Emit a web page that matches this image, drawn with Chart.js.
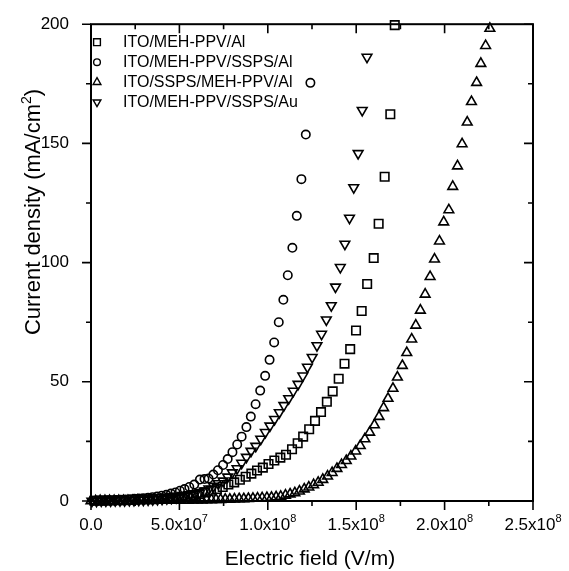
<!DOCTYPE html>
<html>
<head>
<meta charset="utf-8">
<script src="https://cdn.jsdelivr.net/npm/chart.js@4"></script>
<style>
  html, body { margin: 0; padding: 0; background: #fff; }
</style>
</head>
<body>
<canvas id="chart" width="569" height="571"></canvas>
<script>
// field in units of 1e8 V/m, current density in mA/cm2
const seriesLabels = ["ITO/MEH-PPV/Al", "ITO/MEH-PPV/SSPS/Al", "ITO/SSPS/MEH-PPV/Al", "ITO/MEH-PPV/SSPS/Au"];

const squares = [
  [0.019, 0.1], [0.052, 0.1], [0.085, 0.2], [0.118, 0.2], [0.151, 0.3], [0.184, 0.3], [0.217, 0.4], [0.250, 0.5],
  [0.283, 0.6], [0.316, 0.7], [0.349, 0.8], [0.382, 0.9], [0.415, 1.1], [0.448, 1.3], [0.481, 1.5], [0.514, 1.8],
  [0.547, 2.1], [0.580, 2.5], [0.613, 3.0], [0.646, 3.6], [0.679, 4.3], [0.712, 5.0], [0.745, 5.9], [0.777, 6.9],
  [0.810, 7.8], [0.842, 8.9], [0.875, 10.2], [0.907, 11.5], [0.939, 12.8], [0.972, 14.0], [1.004, 15.5], [1.037, 17.0],
  [1.071, 18.2], [1.103, 19.4], [1.137, 21.7], [1.169, 24.2], [1.200, 27.0], [1.234, 30.1], [1.267, 33.6], [1.301, 37.3],
  [1.334, 41.6], [1.367, 46.0], [1.401, 51.3], [1.434, 57.6], [1.466, 63.7], [1.499, 71.5], [1.531, 79.7], [1.562, 91.0],
  [1.599, 101.9], [1.627, 116.3], [1.661, 136.0], [1.693, 162.2], [1.718, 199.6]
];

const circles = [
  [0.013, 0.1], [0.039, 0.2], [0.065, 0.2], [0.090, 0.3], [0.116, 0.3], [0.142, 0.4], [0.168, 0.5], [0.194, 0.6],
  [0.219, 0.7], [0.245, 0.9], [0.271, 1.0], [0.297, 1.2], [0.323, 1.4], [0.348, 1.6], [0.374, 1.9], [0.400, 2.2],
  [0.426, 2.6], [0.452, 3.1], [0.478, 3.6], [0.503, 4.3], [0.529, 5.0], [0.556, 5.9], [0.584, 6.9], [0.616, 9.0],
  [0.642, 9.2], [0.665, 9.4], [0.692, 11.1], [0.718, 12.9], [0.747, 15.1], [0.773, 17.6], [0.800, 20.5], [0.827, 23.7],
  [0.852, 27.0], [0.879, 31.0], [0.904, 35.4], [0.931, 40.6], [0.957, 46.3], [0.985, 52.5], [1.010, 59.2], [1.036, 66.5],
  [1.062, 75.0], [1.088, 84.4], [1.113, 94.7], [1.139, 106.2], [1.164, 119.6], [1.190, 135.0], [1.215, 153.7], [1.241, 175.4]
];

const trianglesUp = [
  [0.000, 0.0], [0.026, 0.0], [0.052, 0.1], [0.079, 0.1], [0.105, 0.1], [0.131, 0.1], [0.157, 0.1], [0.183, 0.1],
  [0.209, 0.1], [0.236, 0.1], [0.262, 0.2], [0.288, 0.2], [0.314, 0.2], [0.340, 0.2], [0.367, 0.2], [0.393, 0.2],
  [0.419, 0.2], [0.445, 0.3], [0.471, 0.3], [0.497, 0.3], [0.524, 0.3], [0.550, 0.3], [0.576, 0.4], [0.602, 0.4],
  [0.628, 0.4], [0.654, 0.5], [0.681, 0.5], [0.707, 0.6], [0.733, 0.6], [0.759, 0.7], [0.785, 0.7], [0.811, 0.8],
  [0.838, 0.9], [0.864, 0.9], [0.890, 1.0], [0.916, 1.1], [0.942, 1.2], [0.968, 1.3], [0.995, 1.4], [1.021, 1.5],
  [1.047, 1.7], [1.073, 1.9], [1.100, 2.4], [1.126, 2.9], [1.153, 3.4], [1.179, 4.1], [1.206, 5.0], [1.232, 5.8],
  [1.259, 6.8], [1.285, 7.8], [1.311, 9.0], [1.338, 10.4], [1.364, 11.9], [1.391, 13.6], [1.417, 15.2], [1.444, 16.9],
  [1.470, 18.8], [1.497, 20.9], [1.523, 23.2], [1.549, 26.0], [1.576, 28.8], [1.603, 31.9], [1.629, 35.4], [1.655, 39.1],
  [1.680, 43.0], [1.708, 47.2], [1.733, 51.9], [1.761, 56.8], [1.786, 62.2], [1.814, 67.9], [1.837, 73.7], [1.863, 80.0],
  [1.890, 86.7], [1.918, 94.1], [1.943, 101.4], [1.971, 109.0], [1.995, 117.0], [2.024, 122.1], [2.046, 131.9], [2.073, 140.5],
  [2.099, 149.8], [2.128, 158.9], [2.152, 167.5], [2.181, 175.5], [2.205, 183.5], [2.232, 191.0], [2.256, 198.2]
];

const trianglesDown = [
  [0.005, 0.0], [0.031, 0.0], [0.058, 0.1], [0.084, 0.1], [0.111, 0.1], [0.137, 0.2], [0.164, 0.2], [0.190, 0.2],
  [0.217, 0.3], [0.243, 0.3], [0.270, 0.4], [0.296, 0.4], [0.323, 0.5], [0.349, 0.6], [0.376, 0.7], [0.402, 0.8],
  [0.429, 1.0], [0.455, 1.2], [0.482, 1.4], [0.508, 1.7], [0.535, 2.0], [0.561, 2.4], [0.588, 2.9], [0.614, 3.4],
  [0.641, 4.3], [0.667, 5.1], [0.693, 6.2], [0.720, 7.3], [0.747, 8.4], [0.773, 10.1], [0.799, 11.9], [0.826, 13.6],
  [0.852, 15.9], [0.879, 18.4], [0.905, 20.9], [0.932, 23.0], [0.960, 26.0], [0.986, 28.8], [1.012, 31.5], [1.038, 34.3],
  [1.065, 37.1], [1.091, 40.1], [1.118, 43.0], [1.144, 46.1], [1.171, 49.0], [1.198, 52.5], [1.224, 56.2], [1.251, 60.3],
  [1.278, 65.2], [1.304, 70.0], [1.331, 76.0], [1.359, 82.0], [1.383, 89.8], [1.410, 98.0], [1.436, 107.8], [1.462, 118.7],
  [1.486, 131.5], [1.511, 145.8], [1.534, 163.9], [1.561, 186.2]
];

// x tick labels: mantissa part and raised exponent
const xTickBase = ["0.0", "5.0x10", "1.0x10", "1.5x10", "2.0x10", "2.5x10"];
const xTickExp = ["", "7", "8", "8", "8", "8"];
const FIELD_UNIT = 1e8;

const FONT = "'Liberation Sans', Arial, sans-serif";
Chart.defaults.font.family = FONT;
Chart.defaults.color = '#000';

// marker look per series
const markers = [
  { style: 'rect', radius: 6, rotation: 0 },
  { style: 'circle', radius: 4.2, rotation: 0 },
  { style: 'triangle', radius: 5.6, rotation: 0 },
  { style: 'triangle', radius: 5.6, rotation: 180 }
];

function toPoints(arr) {
  return arr.map(p => ({ x: p[0] * FIELD_UNIT, y: p[1] }));
}

const datasets = [squares, circles, trianglesUp, trianglesDown].map((arr, i) => ({
  label: seriesLabels[i],
  data: toPoints(arr),
  showLine: false,
  pointStyle: markers[i].style,
  pointRadius: markers[i].radius,
  pointRotation: markers[i].rotation,
  pointBorderWidth: 1.6,
  borderColor: '#000',
  backgroundColor: 'rgba(0,0,0,0)',
  pointBackgroundColor: 'rgba(0,0,0,0)',
  clip: false
}));

// box round the plot, minor ticks on all four sides, x labels with superscripts, titles
const frameTicks = {
  id: 'frameTicks',
  afterDraw(chart) {
    const { ctx, chartArea: a, scales: { x, y } } = chart;
    ctx.save();
    ctx.strokeStyle = '#000';
    ctx.lineWidth = 2;
    ctx.strokeRect(a.left, a.top, a.right - a.left, a.bottom - a.top);
    ctx.lineWidth = 1.6;
    ctx.beginPath();
    for (let k = 0; k <= 10; k++) {
      const px = x.getPixelForValue(k * 0.25 * FIELD_UNIT);
      const len = k % 2 === 0 ? 9 : 5;
      ctx.moveTo(px, a.bottom); ctx.lineTo(px, a.bottom + len);
      ctx.moveTo(px, a.top); ctx.lineTo(px, a.top + len);
    }
    for (let k = 0; k <= 8; k++) {
      const py = y.getPixelForValue(k * 25);
      const len = k % 2 === 0 ? 9 : 5;
      ctx.moveTo(a.left, py); ctx.lineTo(a.left - len, py);
      ctx.moveTo(a.right, py); ctx.lineTo(a.right - len, py);
    }
    ctx.stroke();

    ctx.fillStyle = '#000';
    ctx.textBaseline = 'alphabetic';
    ctx.textAlign = 'left';
    x.ticks.forEach((t, i) => {
      const px = x.getPixelForValue(t.value);
      ctx.font = "17px " + FONT;
      const wb = ctx.measureText(xTickBase[i]).width;
      ctx.font = "11px " + FONT;
      const we = xTickExp[i] ? ctx.measureText(xTickExp[i]).width : 0;
      const x0 = px - (wb + we) / 2;
      ctx.font = "17px " + FONT;
      ctx.fillText(xTickBase[i], x0, 530);
      if (we) {
        ctx.font = "11px " + FONT;
        ctx.fillText(xTickExp[i], x0 + wb, 522);
      }
    });

    ctx.font = "21px " + FONT;
    ctx.textAlign = 'center';
    ctx.fillText('Electric field (V/m)', (a.left + a.right) / 2 - 2, 565);
    ctx.save();
    ctx.translate(40, 212);
    ctx.rotate(-Math.PI / 2);
    ctx.font = "22px " + FONT;
    const main = 'Current density (mA/cm';
    const wm = ctx.measureText(main).width;
    const wp = ctx.measureText(')').width;
    ctx.font = "14px " + FONT;
    const ws = ctx.measureText('2').width;
    const start = -(wm + ws + wp) / 2;
    ctx.textAlign = 'left';
    ctx.font = "22px " + FONT;
    ctx.fillText(main, start, 0);
    ctx.fillText(')', start + wm + ws, 0);
    ctx.font = "14px " + FONT;
    ctx.fillText('2', start + wm, -9);
    ctx.restore();
    ctx.restore();
  }
};

// legend inside the top-left corner of the plot
const insideLegend = {
  id: 'insideLegend',
  afterDraw(chart) {
    const { ctx, chartArea: a } = chart;
    ctx.save();
    ctx.font = "16px " + FONT;
    ctx.textAlign = 'left';
    ctx.textBaseline = 'middle';
    chart.data.datasets.forEach((ds, i) => {
      const cy = a.top + 18 + i * 20;
      ctx.strokeStyle = '#000';
      ctx.fillStyle = 'rgba(0,0,0,0)';
      ctx.lineWidth = 1.4;
      Chart.helpers.drawPoint(ctx, {
        pointStyle: markers[i].style,
        radius: markers[i].radius * 0.8,
        rotation: markers[i].rotation,
        borderWidth: 1.4
      }, a.left + 6, cy);
      ctx.fillStyle = '#000';
      ctx.fillText(ds.label, a.left + 32, cy);
    });
    ctx.restore();
  }
};

new Chart(document.getElementById('chart'), {
  type: 'scatter',
  data: { datasets },
  options: {
    responsive: false,
    animation: false,
    layout: { padding: { top: 19, right: 36, left: 0, bottom: 0 } },
    plugins: { legend: { display: false }, tooltip: { enabled: false } },
    scales: {
      x: {
        type: 'linear',
        min: 0,
        max: 2.5 * FIELD_UNIT,
        grid: { display: false },
        border: { display: false },
        ticks: {
          stepSize: 0.5 * FIELD_UNIT,
          maxRotation: 0,
          font: { size: 17 },
          color: 'rgba(0,0,0,0)',  // drawn by frameTicks with superscripts
          callback: (v, i) => xTickBase[i]
        },
        afterFit: s => { s.height = 70; }
      },
      y: {
        min: 0,
        max: 200,
        grid: { display: false },
        border: { display: false },
        ticks: { stepSize: 50, padding: 14, font: { size: 17 } },
        afterFit: s => { s.width = 91; }
      }
    }
  },
  plugins: [frameTicks, insideLegend]
});
</script>
</body>
</html>
